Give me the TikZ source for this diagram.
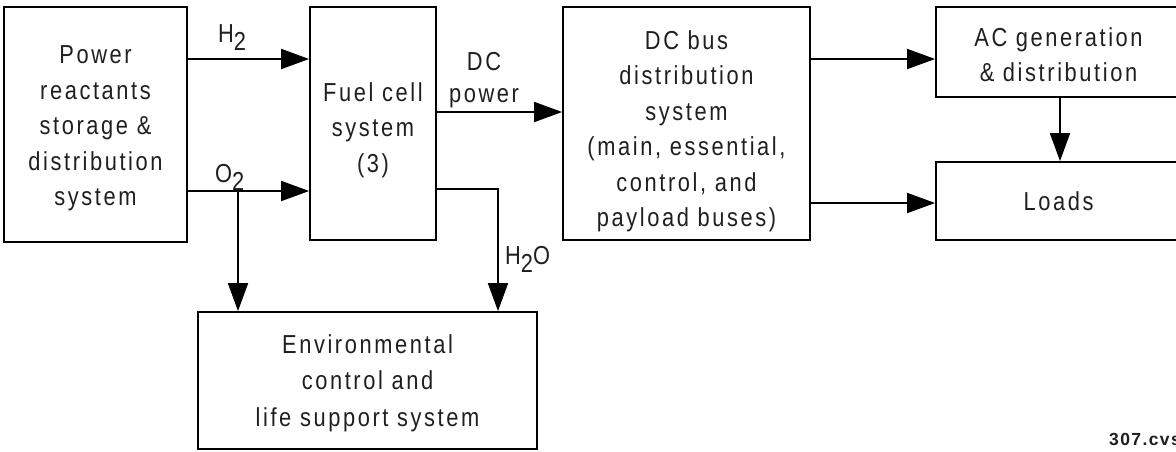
\documentclass[tikz,border=0pt]{standalone}
\usepackage{fontspec}
\setmainfont{Liberation Sans}[LetterSpace=10,FakeStretch=0.84]
\newfontfamily\reffont{Liberation Sans}[LetterSpace=8]
\usetikzlibrary{arrows.meta}
\definecolor{txt}{gray}{0.12}
\tikzset{
 box/.style={draw=black, line width=1.8pt, rectangle, inner sep=0pt, text=txt, font=\fontsize{26}{35.5}\selectfont},
 arr/.style={line width=1.8pt, -{Triangle[length=28pt,width=20pt]}},
 lbl/.style={inner sep=0pt, text=txt, font=\fontsize{26}{30}\selectfont},
}
\newcommand{\sbt}[1]{\raisebox{-8pt}{#1}}
\newcommand{\mlines}[2]{\raisebox{#1}[\height][\depth]{\begin{tabular}{@{}c@{}}#2\end{tabular}}}
\begin{document}
\begin{tikzpicture}[x=1pt,y=-1pt]
\clip (0,0) rectangle (1176,451);
\fill[white] (0,0) rectangle (1176,451);
\node[box, minimum width=183pt, minimum height=235pt] (pow) at (95.5,124.5) {\mlines{-3pt}{Power\\reactants\\storage \&\\distribution\\system}};
\node[box, minimum width=126pt, minimum height=233pt] (fuel) at (373,123.5) {\mlines{-6pt}{Fuel cell\\system\\(3)}};
\node[box, minimum width=247pt, minimum height=233pt] (bus) at (686.5,123.5) {\mlines{-7.5pt}{DC bus\\distribution\\system\\(main, essential,\\control, and\\payload buses)}};
\node[box, minimum width=245pt, minimum height=90pt] (ac) at (1058.5,52) {\mlines{-5pt}{AC generation\\\& distribution}};
\node[box, minimum width=245pt, minimum height=78pt] (loads) at (1058.5,201) {\mlines{-2pt}{Loads}};
\node[box, minimum width=339pt, minimum height=137pt, font=\fontsize{26}{36.5}\selectfont] (env) at (367.5,380.5) {\mlines{-2pt}{Environmental\\control and\\life support system}};
\draw[arr] (pow.east |- 0,59) -- (fuel.west |- 0,59);
\draw[arr] (pow.east |- 0,191) -- (fuel.west |- 0,191);
\coordinate (o2j) at (238,191);
\draw[arr] (o2j) -- (o2j |- env.north);
\draw[arr] (fuel.east |- 0,112) -- (bus.west |- 0,112);
\draw[arr] (fuel.east |- 0,189) -| (env.north -| 498,0);
\draw[arr] (bus.east |- 0,59) -- (ac.west |- 0,59);
\draw[arr] (bus.east |- 0,203) -- (loads.west |- 0,203);
\draw[arr] (ac.south -| 1060,0) -- (loads.north -| 1060,0);
\node[lbl, anchor=base west] (h2) at (218,42) {H\sbt{2}};
\node[lbl, anchor=base west] (o2) at (215,182) {O\sbt{2}};
\node[lbl, anchor=base] (dc) at (484,70) {DC};
\node[lbl, anchor=base] (pw) at (484,102) {power};
\node[lbl, anchor=base west] (h2o) at (505,264) {H\sbt{2}O};
\node[lbl, anchor=base west, font=\reffont\fontsize{17.5}{20}\selectfont\bfseries] (ref) at (1109,445) {307.cvs};
\end{tikzpicture}
\end{document}
